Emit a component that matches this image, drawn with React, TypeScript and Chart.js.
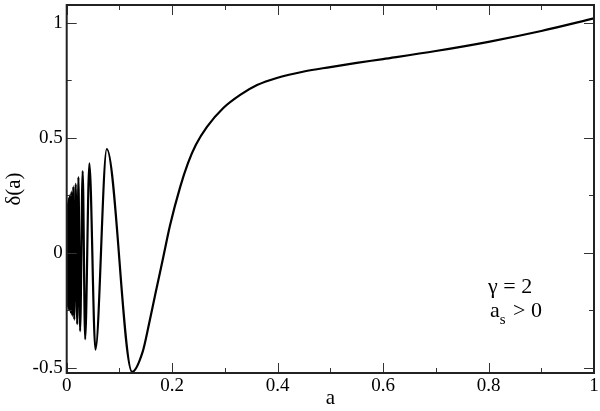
import React, { useEffect, useRef } from "react";
import { Chart, registerables } from "chart.js";

Chart.register(...registerables);

// Curve values (a, δ(a))
const aValues: number[] = [
  0.0000, 0.0002, 0.0004, 0.0006, 0.0008, 0.0010, 0.0012, 0.0014, 0.0016, 0.0018,
  0.0020, 0.0023, 0.0026, 0.0029, 0.0032, 0.0035, 0.0039, 0.0043, 0.0047, 0.0052,
  0.0057, 0.0063, 0.0069, 0.0076, 0.0083, 0.0095, 0.0110, 0.0126, 0.0143, 0.0171,
  0.0199, 0.0222, 0.0254, 0.0303, 0.0350, 0.0430, 0.0545, 0.0760, 0.1240, 0.1440,
  0.1560, 0.1680, 0.1830, 0.1960, 0.2150, 0.2300, 0.2450, 0.2660, 0.2970, 0.3290,
  0.3610, 0.4000, 0.4500, 0.5000, 0.5500, 0.6000, 0.7000, 0.8000, 0.9000, 1.0000,
];
const deltaValues: number[] = [
  -0.14, 0.06, -0.19, 0.10, -0.21, 0.14, -0.22, 0.17, -0.225, 0.19,
  -0.23, 0.21, -0.235, 0.22, -0.24, 0.23, -0.245, 0.24, -0.25, 0.245,
  -0.25, 0.25, -0.255, 0.258, -0.265, 0.268, -0.275, 0.29, -0.29, 0.30,
  -0.31, 0.33, -0.34, 0.356, -0.375, 0.39, -0.42, 0.452, -0.517, -0.43,
  -0.31, -0.18, -0.02, 0.12, 0.285, 0.39, 0.47, 0.548, 0.63, 0.687,
  0.73, 0.762, 0.789, 0.808, 0.826, 0.843, 0.878, 0.918, 0.965, 1.02,
];

const xMajorTicks: number[] = [0, 0.2, 0.4, 0.6, 0.8, 1];
const xMinorTicks: number[] = [0.1, 0.3, 0.5, 0.7, 0.9];
const yMajorTicks: number[] = [-0.5, 0, 0.5, 1];
const yMinorTicks: number[] = [-0.25, 0.25, 0.75];
const xLabels: string[] = ["0", "0.2", "0.4", "0.6", "0.8", "1"];
const yLabels: string[] = ["-0.5", "0", "0.5", "1"];

const FONT = "'Liberation Serif', 'DejaVu Serif', serif";

const framePlugin = {
  id: "frameTicks",
  afterDraw(chart: any) {
    const { ctx, chartArea } = chart;
    const xs = chart.scales.x;
    const ys = chart.scales.y;
    const { left, right, top, bottom } = chartArea;
    ctx.save();
    ctx.strokeStyle = "#333";
    ctx.lineWidth = 1;
    const drawX = (v: number, len: number) => {
      const px = Math.round(xs.getPixelForValue(v)) + 0.5;
      ctx.beginPath();
      ctx.moveTo(px, bottom);
      ctx.lineTo(px, bottom - len);
      ctx.moveTo(px, top);
      ctx.lineTo(px, top + len);
      ctx.stroke();
    };
    const drawY = (v: number, len: number) => {
      const py = Math.round(ys.getPixelForValue(v)) + 0.5;
      ctx.beginPath();
      ctx.moveTo(left, py);
      ctx.lineTo(left + len, py);
      ctx.moveTo(right, py);
      ctx.lineTo(right - len, py);
      ctx.stroke();
    };
    xMajorTicks.forEach((v) => drawX(v, 10));
    xMinorTicks.forEach((v) => drawX(v, 5));
    yMajorTicks.forEach((v) => drawY(v, 10));
    yMinorTicks.forEach((v) => drawY(v, 5));
    ctx.strokeStyle = "#222";
    ctx.lineWidth = 2;
    ctx.strokeRect(left, top, right - left, bottom - top);

    // annotation
    ctx.fillStyle = "#000";
    ctx.textBaseline = "alphabetic";
    ctx.textAlign = "left";
    const ax = xs.getPixelForValue(0.799);
    const y1 = ys.getPixelForValue(-0.172);
    const y2 = ys.getPixelForValue(-0.28);
    ctx.font = `22px ${FONT}`;
    ctx.fillText("\u03b3 = 2", ax, y1);
    ctx.fillText("a", ax + 2, y2);
    const aw = ctx.measureText("a").width;
    ctx.font = `15px ${FONT}`;
    ctx.fillText("s", ax + 2 + aw, y2 + 7);
    const sw = ctx.measureText("s").width;
    ctx.font = `22px ${FONT}`;
    ctx.fillText(" > 0", ax + 4 + aw + sw, y2);
    ctx.restore();
  },
};

export default function App() {
  const canvasRef = useRef<HTMLCanvasElement | null>(null);

  useEffect(() => {
    document.body.style.margin = "0";
    const canvas = canvasRef.current;
    if (!canvas) return;
    const points = aValues.map((a, i) => ({ x: a, y: deltaValues[i] }));
    const chart = new Chart(canvas, {
      type: "line",
      data: {
        datasets: [
          {
            data: points,
            borderColor: "#000",
            borderWidth: 2.2,
            pointRadius: 0,
            fill: false,
            cubicInterpolationMode: "monotone",
          },
        ],
      },
      options: {
        animation: false,
        responsive: false,
        devicePixelRatio: 1,
        layout: { padding: { left: 0, right: 6, top: 5, bottom: 0 } },
        plugins: {
          legend: { display: false },
          tooltip: { enabled: false },
        },
        scales: {
          x: {
            type: "linear",
            min: 0,
            max: 1,
            grid: { display: false, drawTicks: false },
            border: { display: false },
            afterBuildTicks: (s: any) => {
              s.ticks = xMajorTicks.map((v) => ({ value: v }));
            },
            afterFit: (s: any) => {
              s.height = 38;
              s.paddingLeft = 0;
              s.paddingRight = 0;
            },
            ticks: {
              padding: 2,
              color: "#000",
              font: { family: FONT, size: 19 },
              maxRotation: 0,
              callback: (v: any) => {
                const i = xMajorTicks.findIndex((t) => Math.abs(t - v) < 1e-9);
                return i >= 0 ? xLabels[i] : "";
              },
            },
            title: {
              display: true,
              text: "a",
              color: "#000",
              font: { family: FONT, size: 21 },
              padding: { top: 0, bottom: 0 },
            },
          },
          y: {
            type: "linear",
            min: -0.522,
            max: 1.078,
            grid: { display: false, drawTicks: false },
            border: { display: false },
            afterBuildTicks: (s: any) => {
              s.ticks = yMajorTicks.map((v) => ({ value: v }));
            },
            afterFit: (s: any) => {
              s.width = 66.7;
              s.paddingTop = 0;
              s.paddingBottom = 0;
            },
            ticks: {
              padding: 4,
              color: "#000",
              font: { family: FONT, size: 19 },
              callback: (v: any) => {
                const i = yMajorTicks.findIndex((t) => Math.abs(t - v) < 1e-9);
                return i >= 0 ? yLabels[i] : "";
              },
            },
            title: {
              display: true,
              text: "\u03b4(a)",
              color: "#000",
              font: { family: FONT, size: 21 },
              padding: { top: 2, bottom: 0 },
            },
          },
        },
      },
      plugins: [framePlugin],
    });
    return () => chart.destroy();
  }, []);

  return (
    <div style={{ position: "absolute", left: 0, top: 0, width: 600, height: 411, background: "#fff" }}>
      <canvas ref={canvasRef} width={600} height={411} style={{ width: 600, height: 411 }} />
    </div>
  );
}
